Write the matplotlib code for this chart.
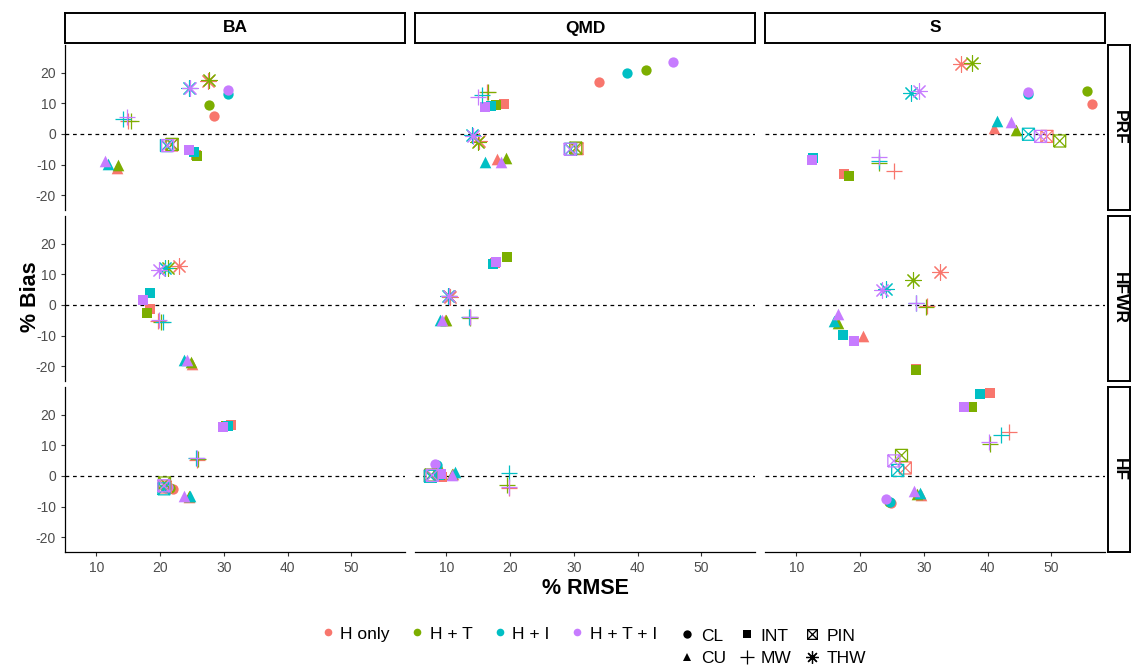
import numpy as np
import matplotlib.pyplot as plt
from matplotlib.path import Path
from matplotlib.lines import Line2D

plt.rcParams['font.family'] = ['Liberation Sans', 'DejaVu Sans']
plt.rcParams['axes.unicode_minus'] = False

# Categories
methods = ["CL", "CU", "INT", "MW", "PIN", "THW"]
treatments = ["H only", "H + T", "H + I", "H + T + I"]
variables = ["BA", "QMD", "S"]
datasets = ["PRF", "HFWR", "HF"]
treat_colors = ["#F8766D", "#7CAE00", "#00BFC4", "#C77CFF"]
nan4 = [np.nan] * 4

# rows = methods (CL, CU, INT, MW, PIN, THW), columns = treatments
prf_ba_rmse = [[28.4, 27.6, 30.7, 30.7], [13.3, 13.4, 11.8, 11.3], [25.6, 25.8, 25.3, 24.5],
               [15.0, 15.4, 14.2, 14.8], [21.8, 21.9, 21.0, 21.2], [27.5, 27.7, 24.6, 24.7]]
prf_ba_bias = [[5.8, 9.5, 12.9, 14.3], [-11.0, -10.0, -9.8, -8.8], [-7.0, -7.3, -6.0, -5.2],
               [4.3, 4.3, 4.9, 5.4], [-3.6, -3.4, -3.8, -3.8], [17.2, 17.5, 15.0, 14.9]]

prf_qmd_rmse = [[34.0, 41.3, 38.4, 45.6], [17.9, 19.3, 16.1, 18.6], [19.0, 17.8, 17.0, 16.1],
                [16.4, 16.6, 15.6, 15.0], [30.5, 30.3, 29.5, 29.4], [15.1, 15.0, 14.0, 14.2]]
prf_qmd_bias = [[16.8, 20.8, 19.8, 23.6], [-8.2, -8.0, -9.0, -9.2], [9.8, 9.4, 9.0, 8.7],
                [13.6, 13.8, 12.7, 11.9], [-4.8, -4.6, -5.0, -5.0], [-2.4, -2.6, -0.5, -0.8]]

prf_s_rmse = [[56.3, 55.6, 46.3, 46.3], [41.0, 44.4, 41.5, 43.6], [17.5, 18.2, 12.6, 12.4],
              [25.4, 22.9, 22.9, 22.9], [49.3, 51.3, 46.4, 48.3], [35.9, 37.5, 28.0, 29.2]]
prf_s_bias = [[9.7, 14.1, 13.0, 13.8], [2.1, 1.3, 4.2, 3.8], [-13.1, -13.6, -7.9, -8.6],
              [-12.1, -9.5, -8.8, -7.4], [-0.8, -2.3, -0.1, -0.8], [22.7, 23.0, 13.2, 14.1]]

hfwr_ba_rmse = [nan4, [25.0, 24.9, 23.7, 24.2], [18.5, 17.9, 18.4, 17.4],
                [19.7, 20.1, 20.4, 19.8], nan4, [22.9, 21.2, 20.7, 19.9]]
hfwr_ba_bias = [nan4, [-19.4, -18.6, -18.1, -17.8], [-1.3, -2.6, 3.8, 1.7],
                [-5.2, -5.6, -5.4, -5.0], nan4, [12.8, 11.9, 12.2, 11.5]]

hfwr_qmd_rmse = [nan4, [9.8, 9.9, 9.0, 9.4], [17.6, 19.5, 17.4, 17.8],
                 [13.8, 13.7, 13.6, 13.7], nan4, [10.6, 10.5, 10.3, 10.4]]
hfwr_qmd_bias = [nan4, [-4.9, -5.0, -4.8, -5.0], [13.6, 15.7, 13.4, 13.9],
                 [-4.0, -4.1, -3.9, -4.0], nan4, [2.7, 2.8, 2.9, 3.0]]

hfwr_s_rmse = [nan4, [20.5, 16.6, 15.9, 16.5], [28.7, 28.7, 17.3, 19.1],
               [30.5, 30.4, 28.8, 28.7], nan4, [32.6, 28.3, 24.1, 23.4]]
hfwr_s_bias = [nan4, [-10.0, -5.9, -5.1, -2.9], [-21.0, -21.1, -9.8, -11.6],
               [-0.5, -0.6, 0.5, 0.7], nan4, [10.6, 8.2, 5.2, 4.9]]

hf_ba_rmse = [[22.0, 21.5, 21.0, 21.2], [24.6, 24.5, 24.7, 23.7], [31.1, 30.3, 30.6, 29.9],
              [25.8, 25.9, 25.7, 25.8], [20.8, 20.7, 20.6, 20.6], nan4]
hf_ba_bias = [[-4.3, -4.0, -4.0, -3.7], [-6.8, -6.7, -6.5, -6.6], [16.6, 16.3, 16.4, 16.1],
              [5.2, 5.5, 5.8, 6.0], [-3.6, -2.3, -4.2, -3.2], nan4]

hf_qmd_rmse = [[8.7, 8.5, 8.6, 8.3], [11.0, 10.9, 11.4, 10.9], [9.3, 9.0, 8.9, 9.1],
               [19.8, 19.6, 19.8, 19.8], [7.5, 7.6, 7.5, 7.8], nan4]
hf_qmd_bias = [[2.0, 2.5, 3.5, 3.9], [0.5, 0.6, 1.2, 0.3], [-0.3, 0.2, 0.4, 0.6],
               [-3.9, -2.9, 1.0, -3.5], [0.0, 0.3, -0.1, 0.2], nan4]

hf_s_rmse = [[24.8, 24.6, 24.7, 24.1], [29.6, 28.9, 29.4, 28.5], [40.3, 37.6, 38.8, 36.3],
             [43.3, 40.4, 42.1, 40.2], [27.1, 26.5, 25.9, 25.3], nan4]
hf_s_bias = [[-8.8, -8.4, -8.6, -7.5], [-6.3, -5.8, -5.5, -4.8], [27.0, 22.6, 26.7, 22.6],
             [14.2, 10.4, 13.5, 11.2], [2.6, 6.7, 1.8, 4.9], nan4]

x_ticks = [10, 20, 30, 40, 50]
y_ticks = [-20, -10, 0, 10, 20]

panels = {
    ("PRF", "BA"): (prf_ba_rmse, prf_ba_bias),
    ("PRF", "QMD"): (prf_qmd_rmse, prf_qmd_bias),
    ("PRF", "S"): (prf_s_rmse, prf_s_bias),
    ("HFWR", "BA"): (hfwr_ba_rmse, hfwr_ba_bias),
    ("HFWR", "QMD"): (hfwr_qmd_rmse, hfwr_qmd_bias),
    ("HFWR", "S"): (hfwr_s_rmse, hfwr_s_bias),
    ("HF", "BA"): (hf_ba_rmse, hf_ba_bias),
    ("HF", "QMD"): (hf_qmd_rmse, hf_qmd_bias),
    ("HF", "S"): (hf_s_rmse, hf_s_bias),
}

# square with a cross (R shape 7)
pin_marker = Path([(-1, -1), (1, -1), (1, 1), (-1, 1), (-1, -1), (-1, -1), (1, 1), (-1, 1), (1, -1)],
                  [Path.MOVETO, Path.LINETO, Path.LINETO, Path.LINETO, Path.LINETO,
                   Path.MOVETO, Path.LINETO, Path.MOVETO, Path.LINETO])

marker_style = {
    "CL": dict(marker='o', s=55, linewidths=0),
    "CU": dict(marker='^', s=70, linewidths=0),
    "INT": dict(marker='s', s=60, linewidths=0),
    "MW": dict(marker='+', s=130, linewidths=0.9),
    "PIN": dict(marker=pin_marker, s=75, linewidths=0.9, facecolors='none'),
    "THW": dict(marker=(8, 2, 0), s=130, linewidths=0.8),
}

W, H = 1132, 671
fig = plt.figure(figsize=(W / 100, H / 100), dpi=100)

def px_axes(left, top, w, h):
    return fig.add_axes([left / W, 1 - (top + h) / H, w / W, h / H])

col_left = [65, 415, 765]
row_top = [45, 216, 387]
pw, ph = 340, 165

for i, ds in enumerate(datasets):
    for j, var in enumerate(variables):
        ax = px_axes(col_left[j], row_top[i], pw, ph)
        rmse, bias = panels[(ds, var)]
        ax.axhline(0, color='black', linestyle=(0, (3, 3)), linewidth=0.9, zorder=1)
        for m, meth in enumerate(methods):
            st = dict(marker_style[meth])
            for t in range(len(treatments)):
                if meth == "PIN":
                    ax.scatter(rmse[m][t], bias[m][t], edgecolors=treat_colors[t], zorder=2, **st)
                else:
                    ax.scatter(rmse[m][t], bias[m][t], color=treat_colors[t], zorder=2, **st)
        ax.set_xlim(5.1, 58.4)
        ax.set_ylim(-24.8, 29.0)
        ax.set_xticks(x_ticks)
        ax.set_yticks(y_ticks)
        for s in ax.spines.values():
            s.set_visible(False)
        ax.tick_params(colors='#333333', labelcolor='#4D4D4D', labelsize=10, length=3, width=0.8)
        if j == 0:
            ax.spines['left'].set_visible(True)
            ax.spines['left'].set_linewidth(0.9)
        else:
            ax.tick_params(axis='y', left=False, labelleft=False)
        if i == 2:
            ax.spines['bottom'].set_visible(True)
            ax.spines['bottom'].set_linewidth(0.9)
        else:
            ax.tick_params(axis='x', bottom=False, labelbottom=False)

# column strips
for j, var in enumerate(variables):
    sax = px_axes(col_left[j], 13, pw, 30)
    sax.set_xticks([]); sax.set_yticks([])
    for s in sax.spines.values():
        s.set_linewidth(1.4)
    sax.text(0.5, 0.5, var, ha='center', va='center', fontsize=12.5, fontweight='bold',
             transform=sax.transAxes)

# row strips
for i, ds in enumerate(datasets):
    sax = px_axes(1108, row_top[i], 22, ph)
    sax.set_xticks([]); sax.set_yticks([])
    for s in sax.spines.values():
        s.set_linewidth(1.4)
    sax.text(0.5, 0.5, ds, ha='center', va='center', fontsize=12.5, fontweight='bold',
             rotation=-90, transform=sax.transAxes)

fig.text(30 / W, 1 - 297 / H, "% Bias", rotation=90, ha='center', va='center',
         fontsize=15.5, fontweight='bold')
fig.text(585 / W, 1 - 588 / H, "% RMSE", ha='center', va='center',
         fontsize=15.5, fontweight='bold')

# legends
color_handles = [Line2D([], [], linestyle='none', marker='o', markersize=5.5, markeredgewidth=0,
                        color=c, label=t) for c, t in zip(treat_colors, treatments)]
fig.legend(handles=color_handles, loc='center', bbox_to_anchor=(488 / W, 1 - 634 / H), ncol=4,
           frameon=False, fontsize=12.5, handletextpad=0.2, columnspacing=1.1, handlelength=1.0)

leg_markers = {"CL": 'o', "CU": '^', "INT": 's', "MW": '+', "PIN": pin_marker, "THW": (8, 2, 0)}
leg_sizes = {"CL": 6, "CU": 6, "INT": 6, "MW": 10, "PIN": 7, "THW": 9}
shape_handles = []
for meth in methods:
    filled = meth in ("CL", "CU", "INT")
    shape_handles.append(Line2D([], [], linestyle='none', marker=leg_markers[meth],
                                markersize=leg_sizes[meth], markeredgewidth=0 if filled else 0.9,
                                color='black', markerfacecolor='black' if filled else 'none',
                                label=meth))
fig.legend(handles=shape_handles, loc='center', bbox_to_anchor=(772 / W, 1 - 647 / H), ncol=3,
           frameon=False, fontsize=12.5, handletextpad=0.3, columnspacing=0.7, handlelength=1.0,
           labelspacing=0.4)

fig.savefig('out.png', dpi=100)
